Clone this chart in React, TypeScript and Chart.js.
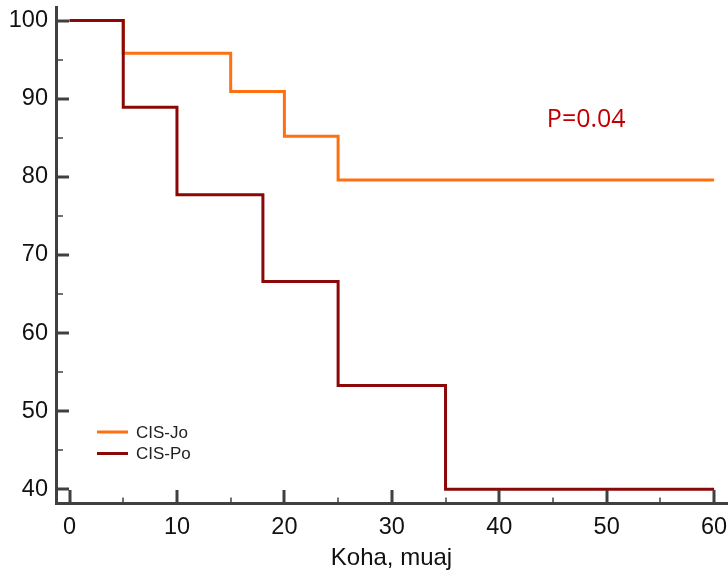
import React, { useEffect, useRef } from 'react';
import { Chart, registerables } from 'chart.js';

Chart.register(...registerables);

// Kaplan-Meier step data
const joTimes = [0, 5, 15, 20, 25, 60];
const joSurvival = [100, 95.8, 90.9, 85.2, 79.6, 79.6];
const poTimes = [0, 5, 10, 18, 25, 35, 60];
const poSurvival = [100, 88.9, 77.7, 66.6, 53.3, 40, 40];

const seriesLabels = ['CIS-Jo', 'CIS-Po'];
const seriesColors = ['#FF7010', '#8B0808'];

const xTicks = [0, 10, 20, 30, 40, 50, 60];
const xMinorTicks = [5, 15, 25, 35, 45, 55];
const yTicks = [40, 50, 60, 70, 80, 90, 100];
const yMinorTicks = [45, 55, 65, 75, 85, 95];
const xRange = [-1.26, 61.2];
const yRange = [38.25, 101.73];

const xTitle = 'Koha, muaj';
const pLabel = 'P=0.04';
const pLabelAt = [44.43, 86.4];

const AXIS_COLOR = '#404040';
const FONT = "'Liberation Sans', Arial, sans-serif";

const overlayPlugin = {
  id: 'overlay',
  afterDraw(chart: any) {
    const ctx = chart.ctx;
    const area = chart.chartArea;
    const xs = chart.scales.x;
    const ys = chart.scales.y;
    ctx.save();
    ctx.strokeStyle = AXIS_COLOR;
    ctx.lineCap = 'butt';
    const drawX = (vals: number[], len: number, w: number) => {
      ctx.lineWidth = w;
      vals.forEach((v) => {
        const px = Math.round(xs.getPixelForValue(v));
        ctx.beginPath();
        ctx.moveTo(px, area.bottom);
        ctx.lineTo(px, area.bottom - len);
        ctx.stroke();
      });
    };
    const drawY = (vals: number[], len: number, w: number) => {
      ctx.lineWidth = w;
      vals.forEach((v) => {
        const py = Math.round(ys.getPixelForValue(v));
        ctx.beginPath();
        ctx.moveTo(area.left, py);
        ctx.lineTo(area.left + len, py);
        ctx.stroke();
      });
    };
    drawX(xTicks, 13, 3);
    drawX(xMinorTicks, 5.5, 1.5);
    drawY(yTicks, 13, 3);
    drawY(yMinorTicks, 7, 1.5);

    // legend
    ctx.font = `17px ${FONT}`;
    ctx.textBaseline = 'middle';
    ctx.textAlign = 'left';
    seriesLabels.forEach((lab, i) => {
      const y = 432 + i * 21.5;
      ctx.strokeStyle = seriesColors[i];
      ctx.lineWidth = 3;
      ctx.beginPath();
      ctx.moveTo(area.left + 41, y);
      ctx.lineTo(area.left + 72, y);
      ctx.stroke();
      ctx.fillStyle = '#222';
      ctx.fillText(lab, area.left + 80, y + 1);
    });

    // p-value
    ctx.font = "25px 'Open Sans', sans-serif";
    ctx.fillStyle = '#C00000';
    ctx.textBaseline = 'alphabetic';
    ctx.fillText(pLabel, xs.getPixelForValue(pLabelAt[0]), ys.getPixelForValue(pLabelAt[1]));
    ctx.restore();
  },
};

export default function App() {
  const ref = useRef<HTMLCanvasElement | null>(null);
  useEffect(() => {
    if (!ref.current) return;
    const chart = new Chart(ref.current, {
      type: 'line',
      data: {
        datasets: [
          {
            label: seriesLabels[0],
            data: joTimes.map((t, i) => ({ x: t, y: joSurvival[i] })),
            borderColor: seriesColors[0],
            borderWidth: 3,
            stepped: 'before',
            pointRadius: 0,
            fill: false,
            order: 1,
          },
          {
            label: seriesLabels[1],
            data: poTimes.map((t, i) => ({ x: t, y: poSurvival[i] })),
            borderColor: seriesColors[1],
            borderWidth: 3,
            stepped: 'before',
            pointRadius: 0,
            fill: false,
            order: 0,
          },
        ],
      },
      options: {
        responsive: false,
        animation: false,
        layout: { padding: { top: 7, right: 1, left: 0, bottom: 0 } },
        plugins: { legend: { display: false }, tooltip: { enabled: false } },
        scales: {
          x: {
            type: 'linear',
            min: xRange[0],
            max: xRange[1],
            afterBuildTicks: (s: any) => {
              s.ticks = xTicks.map((v) => ({ value: v }));
            },
            afterFit: (s: any) => {
              s.height = 74;
              s.paddingLeft = 0;
              s.paddingRight = 0;
            },
            grid: { display: true, drawOnChartArea: false, drawTicks: false },
            border: { display: true, color: AXIS_COLOR, width: 3 },
            ticks: {
              padding: 10,
              color: '#111',
              font: { family: FONT, size: 23.5 },
              maxRotation: 0,
              autoSkip: false,
            },
            title: {
              display: true,
              text: xTitle,
              color: '#111',
              font: { family: FONT, size: 24 },
              padding: { top: 0, bottom: 4 },
            },
          },
          y: {
            type: 'linear',
            min: yRange[0],
            max: yRange[1],
            afterBuildTicks: (s: any) => {
              s.ticks = yTicks.map((v) => ({ value: v }));
            },
            afterFit: (s: any) => {
              s.width = 56;
              s.paddingTop = 0;
              s.paddingBottom = 0;
            },
            grid: { display: true, drawOnChartArea: false, drawTicks: false },
            border: { display: true, color: AXIS_COLOR, width: 3 },
            ticks: {
              padding: 8,
              color: '#111',
              font: { family: FONT, size: 23.5 },
              autoSkip: false,
            },
          },
        },
      },
      plugins: [overlayPlugin],
    } as any);
    return () => chart.destroy();
  }, []);
  return (
    <div style={{ position: 'fixed', left: 0, top: 0, width: 728, height: 577, background: '#fff' }}>
      <canvas ref={ref} width={728} height={577} style={{ display: 'block' }} />
    </div>
  );
}
